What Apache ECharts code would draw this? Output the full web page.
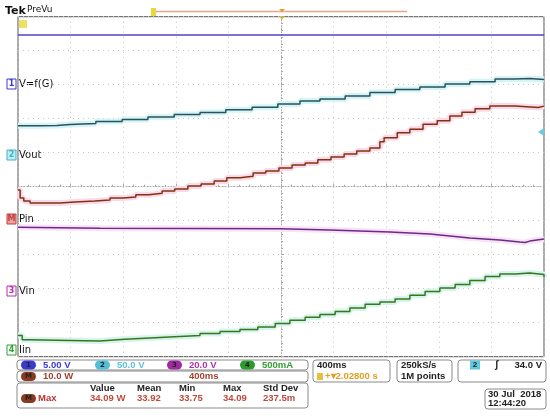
<!DOCTYPE html>
<html>
<head>
<meta charset="utf-8">
<script src="https://cdn.jsdelivr.net/npm/echarts@6/dist/echarts.min.js"></script>
<style>
  html, body { margin: 0; padding: 0; background: #fff; }
  #chart { width: 550px; height: 416px; }
</style>
</head>
<body>
<div id="chart"></div>
<script>
// positions in screen divisions (x: -5..5, y: -5..5, 0 = centre)
var ch1X = [-5, 5];
var ch1Y = [4.46, 4.46];

var vfgX = [-5.00, -4.58, -4.26, -4.01, -3.52, -3.02, -2.53, -2.03, -1.54, -1.05, -0.55, -0.06, 0.36, 0.74, 1.22, 1.69, 2.17, 2.64, 3.12, 3.59, 4.07, 4.45, 4.73, 5.00];
var vfgY = [1.79, 1.80, 1.83, 1.86, 1.92, 1.98, 2.05, 2.12, 2.18, 2.26, 2.34, 2.43, 2.52, 2.58, 2.67, 2.77, 2.86, 2.93, 3.02, 3.09, 3.17, 3.18, 3.15, 3.14];

var voutX = [-5.00, -4.96, -4.89, -4.77, -4.20, -3.92, -3.54, -3.25, -3.00, -2.76, -2.51, -2.26, -2.02, -1.77, -1.52, -1.27, -1.03, -0.78, -0.53, -0.29, -0.04, 0.21, 0.46, 0.70, 0.95, 1.20, 1.44, 1.69, 1.88, 1.96, 2.21, 2.45, 2.70, 2.97, 3.21, 3.44, 3.69, 3.97, 4.45, 4.89, 5.00];
var voutY = [-0.10, -0.33, -0.42, -0.48, -0.45, -0.42, -0.39, -0.33, -0.30, -0.24, -0.19, -0.13, -0.07, 0.02, 0.08, 0.17, 0.26, 0.31, 0.40, 0.46, 0.55, 0.64, 0.70, 0.79, 0.87, 0.96, 1.05, 1.14, 1.32, 1.44, 1.59, 1.69, 1.84, 1.94, 2.08, 2.19, 2.29, 2.37, 2.33, 2.37, 2.37];

var pinX = [-5, -3.44, -0.02, 0.93, 2.07, 2.83, 3.59, 4.16, 4.54, 4.64, 4.73, 5];
var pinY = [-1.19, -1.22, -1.24, -1.27, -1.33, -1.39, -1.51, -1.57, -1.63, -1.64, -1.60, -1.54];

var iinX = [-5.00, -4.92, -4.77, -4.01, -3.44, -2.97, -2.49, -2.02, -1.54, -1.16, -0.78, -0.44, -0.11, 0.17, 0.46, 0.74, 1.03, 1.31, 1.60, 1.88, 2.17, 2.45, 2.74, 3.02, 3.31, 3.59, 3.88, 4.16, 4.45, 4.73, 5.00];
var iinY = [-4.38, -4.50, -4.52, -4.54, -4.49, -4.45, -4.41, -4.38, -4.32, -4.26, -4.20, -4.13, -4.02, -3.93, -3.84, -3.76, -3.67, -3.57, -3.46, -3.39, -3.30, -3.19, -3.08, -2.98, -2.88, -2.76, -2.64, -2.57, -2.54, -2.58, -2.66];

var scaleLabels = ["5.00 V", "50.0 V", "20.0 V", "500mA"];
var measHead = ["Value", "Mean", "Min", "Max", "Std Dev"];
var measVals = ["34.09 W", "33.92", "33.75", "34.09", "237.5m"];

function pairs (xs, ys) {
  return xs.map(function (x, i) { return [x, ys[i]]; });
}

function trace (xs, ys, color, glow, step) {
  var d = pairs(xs, ys);
  return [
    {
      type: "line", data: d, step: step, symbol: "none", silent: true,
      lineStyle: { color: glow, width: 6 }, z: 2
    },
    {
      type: "line", data: d, step: step, symbol: "none", silent: true,
      lineStyle: { color: color, width: 1.5 }, z: 3
    }
  ];
}

var myChart = echarts.init(document.getElementById("chart"));
var font = "'DejaVu Sans', sans-serif";
var panelFont = "'Liberation Sans', Arial, sans-serif";

// labels beside the traces on the left edge
var chanTags = [
  { n: "1", t: "V=f(G)", y: 84, c: "#3a3ad0", fill: "#fff" },
  { n: "2", t: "Vout", y: 155, c: "#40b0c8", fill: "#bfeef6" },
  { n: "M", t: "Pin", y: 219, c: "#c04040", fill: "#f0a0a0" },
  { n: "3", t: "Vin", y: 291, c: "#b030b0", fill: "#fff" },
  { n: "4", t: "Iin", y: 350, c: "#30a030", fill: "#fff" }
];
var graphics = [];
chanTags.forEach(function (g) {
  graphics.push({ type: "rect", shape: { x: 7, y: g.y - 5, width: 9, height: 10 },
    style: { fill: g.fill, stroke: g.c, lineWidth: 1 } });
  graphics.push({ type: "text", x: 11.5, y: g.y, style: { text: g.n, fill: g.c, font: "bold 8px " + font, align: "center", verticalAlign: "middle" } });
  graphics.push({ type: "text", x: 19, y: g.y, style: { text: g.t, fill: "#111", font: "10px " + font, verticalAlign: "middle" } });
});

// header
graphics.push({ type: "text", x: 5, y: 11, style: { text: "Tek", fill: "#111", font: "bold 11px " + font, verticalAlign: "middle" } });
graphics.push({ type: "text", x: 27, y: 10, style: { text: "PreVu", fill: "#111", font: "9px " + font, verticalAlign: "middle" } });
graphics.push({ type: "line", shape: { x1: 155, y1: 11.5, x2: 407, y2: 11.5 }, style: { stroke: "#e2a88c", lineWidth: 1.5 } });
graphics.push({ type: "rect", shape: { x: 151, y: 8, width: 5, height: 8 }, style: { fill: "#e8d840" } });
graphics.push({ type: "polygon", shape: { points: [[279, 9], [285, 9], [282, 12]] }, style: { fill: "#e0a020" } });
graphics.push({ type: "polygon", shape: { points: [[279, 16], [285, 16], [282, 20]] }, style: { fill: "#e8c020" } });
graphics.push({ type: "rect", shape: { x: 19, y: 20, width: 8, height: 8 }, style: { fill: "#eee060" } });
graphics.push({ type: "polygon", shape: { points: [[544, 128], [544, 136], [538, 132]] }, style: { fill: "#70c8e0" } });

// info panel boxes
function box (x, y, w, h) {
  graphics.push({ type: "rect", shape: { x: x, y: y, width: w, height: h, r: 3 }, style: { fill: "#fff", stroke: "#8a8a8a", lineWidth: 1 } });
}
function pill (x, y, label, c) {
  graphics.push({ type: "rect", shape: { x: x, y: y - 4.5, width: 15, height: 9, r: 4.5 }, style: { fill: c } });
  graphics.push({ type: "text", x: x + 7.5, y: y, style: { text: label, fill: "#222", font: "bold 7px " + font, align: "center", verticalAlign: "middle" } });
}
function txt (x, y, s, c, size, align) {
  graphics.push({ type: "text", x: x, y: y, style: { text: s, fill: c, font: "bold " + (size || 9.5) + "px " + panelFont, align: align || "left", verticalAlign: "middle" } });
}
box(17, 360, 291, 10);
box(17, 371, 291, 11);
box(17, 383, 291, 25);
box(313, 360, 77, 22);
box(397, 360, 55, 22);
box(458, 360, 88, 22);
box(485, 389, 61, 20);

var chColors = ["#3a3ad0", "#60c0d8", "#b030b0", "#30a030"];
var pillColors = ["#3a3ad0", "#50c0d8", "#a02aa0", "#2c9a2c"];
var pillX = [21, 95, 167, 240];
scaleLabels.forEach(function (s, i) {
  pill(pillX[i], 365, String(i + 1), pillColors[i]);
  txt(pillX[i] + 22, 365, s, chColors[i]);
});
pill(21, 376.5, "M", "#8a3a20");
txt(43, 376.5, "10.0 W", "#a04030");
txt(189, 376.5, "400ms", "#a04030");

var colX = [90, 137, 179, 223, 263];
measHead.forEach(function (s, i) { txt(colX[i], 388.5, s, "#222"); });
pill(21, 398.5, "M", "#8a3a20");
txt(38, 398.5, "Max", "#c03030");
measVals.forEach(function (s, i) { txt(colX[i], 398.5, s, "#c04a3a"); });

txt(317, 365, "400ms", "#222");
graphics.push({ type: "rect", shape: { x: 317, y: 373, width: 6, height: 7 }, style: { fill: "#e8c040" } });
txt(325, 376.5, "+\u25be2.02800 s", "#e0a020");
txt(401, 365, "250kS/s", "#222");
txt(401, 376.5, "1M points", "#222");
graphics.push({ type: "rect", shape: { x: 470, y: 360.5, width: 10, height: 9 }, style: { fill: "#60c8e0" } });
txt(475, 365, "2", "#222", 8, "center");
txt(495, 365, "\u0283", "#222", 10);
txt(542, 365, "34.0 V", "#222", 9.5, "right");
txt(488, 394.5, "30 Jul  2018", "#222");
txt(488, 403.5, "12:44:20", "#222");

var series = []
  .concat(trace(ch1X, ch1Y, "#5a3cc8", "rgba(0,0,0,0)", false))
  .concat(trace(vfgX, vfgY, "#2f4f5e", "#d2f5f6", "end"))
  .concat(trace(voutX, voutY, "#7e3412", "#fbd9e8", "end"))
  .concat(trace(pinX, pinY, "#6a2a8a", "#f8e2f4", false))
  .concat(trace(iinX, iinY, "#3a7420", "#d6f5ea", "end"));

var gridLine = { show: true, lineStyle: { color: "#c4c4c4", type: [1, 4], width: 1 } };
var centreAxisLine = { show: true, onZero: true, lineStyle: { color: "#aaaaaa", width: 1, type: [1, 2] } };
var tickStyle = { color: "#aaaaaa" };

myChart.setOption({
  animation: false,
  grid: { left: 18, right: 6, top: 16.7, bottom: 59.3, show: true, borderColor: "#555", borderWidth: 1 },
  xAxis: {
    type: "value", min: -5, max: 5, interval: 1,
    axisLine: centreAxisLine,
    axisTick: { show: true, inside: true, length: 3, lineStyle: tickStyle },
    minorTick: { show: true, splitNumber: 5, length: 2, lineStyle: tickStyle },
    axisLabel: { show: false },
    splitLine: gridLine
  },
  yAxis: {
    type: "value", min: -5, max: 5, interval: 1,
    axisLine: centreAxisLine,
    axisTick: { show: true, inside: true, length: 3, lineStyle: tickStyle },
    minorTick: { show: true, splitNumber: 5, length: 2, lineStyle: tickStyle },
    axisLabel: { show: false },
    splitLine: gridLine
  },
  series: series,
  graphic: graphics
});
</script>
</body>
</html>
